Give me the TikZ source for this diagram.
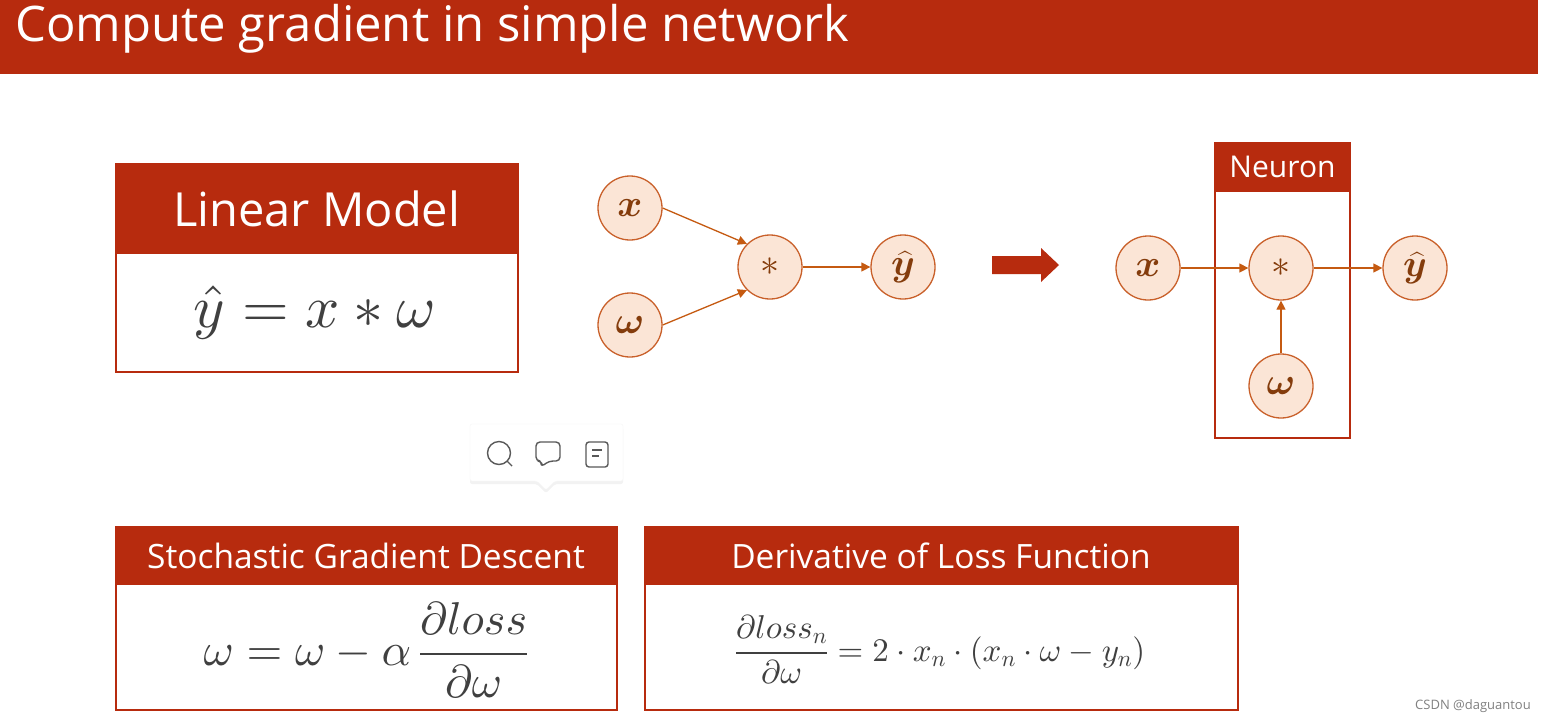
\documentclass[tikz,border=0pt]{standalone}
\usepackage{fix-cm}
\usepackage{amsmath}
\usepackage{bm}
\usepackage{fontspec}
\setmainfont{Open Sans}
\usetikzlibrary{arrows.meta,shadows}
\DeclareFontShape{OML}{cmm}{m}{it}{<->cmmi10}{}
\DeclareFontShape{OMS}{cmsy}{m}{n}{<->cmsy10}{}
\DeclareFontShape{OT1}{cmr}{m}{n}{<->cmr10}{}
\definecolor{barred}{HTML}{B72B0E}
\definecolor{nodeline}{HTML}{C9602A}
\definecolor{nodefill}{HTML}{FBE5D6}
\definecolor{nodetext}{HTML}{843C0C}
\definecolor{arrowline}{HTML}{C55A11}
\definecolor{mathtext}{HTML}{404040}
\definecolor{icongray}{HTML}{595959}
\tikzset{
 unitnode/.style={circle,draw=nodeline,fill=nodefill,line width=1.3pt,minimum size=64pt,inner sep=0pt,text=nodetext,font=\fontsize{38}{40}\selectfont},
 starnode/.style={unitnode,font=\fontsize{38}{40}\selectfont},
 wire/.style={arrowline,line width=1.3pt,-{Triangle[length=9pt,width=9pt]}},
 framebox/.style={draw=barred,line width=2pt,fill=white,anchor=north west,outer sep=0pt},
 headbox/.style={fill=barred,anchor=north west,text=white,inner sep=0pt,outer sep=0pt,align=center},
 formula/.style={text=mathtext,inner sep=0pt},
 iconline/.style={draw=icongray,line width=1.4pt,line join=round}
}
\begin{document}
\begin{tikzpicture}[x=1pt,y=-1pt]
 \useasboundingbox (0,0) rectangle (1546,721);
 \fill[white] (0,0) rectangle (1546,721);
 % title bar
 \node[fill=barred,anchor=north west,minimum width=1538pt,minimum height=74pt,inner sep=0pt,outer sep=0pt] (titlebar) at (0,0) {};
 \node[anchor=base west,text=white,inner sep=0pt,font=\fontsize{49}{56}\selectfont] (title) at (15,41) {Compute gradient in simple network};
 % linear model
 \node[framebox,minimum width=402pt,minimum height=208pt] (modelbox) at (115.5,163.5) {};
 \node[headbox,minimum width=403.5pt,minimum height=91pt,font=\fontsize{47}{52}\selectfont] (modelhead) at (115,163) {Linear Model};
 \node[formula,font=\fontsize{60}{64}\selectfont] (modeleq) at (315,312) {$\hat{y}=x*\omega$};
 % first graph
 \node[unitnode] (xa) at (630,208) {\raisebox{-2pt}{$\bm{x}$}};
 \node[unitnode] (wa) at (630,325) {\raisebox{-3pt}{$\bm{\omega}$}};
 \node[starnode] (mula) at (770,267) {$*$};
 \node[unitnode] (ya) at (903,267) {$\bm{\widehat{y}}$};
 \draw[wire] (xa.east) -- (mula.135);
 \draw[wire] (wa.east) -- (mula.225);
 \draw[wire] (mula.east) -- (ya.west);
 % big arrow
 \fill[barred] (992,256) -- (1041,256) -- (1041,248) -- (1059,265) -- (1041,282) -- (1041,274) -- (992,274) -- cycle;
 % neuron
 \node[framebox,minimum width=135pt,minimum height=295pt] (neuronbox) at (1215,142.5) {};
 \node[headbox,minimum width=137pt,minimum height=50pt,font=\fontsize{30}{33}\selectfont] (neuronhead) at (1214,142) {Neuron};
 \node[unitnode] (xb) at (1148,268) {\raisebox{-2pt}{$\bm{x}$}};
 \node[starnode] (mulb) at (1281,268) {$*$};
 \node[unitnode] (yb) at (1415,268) {$\bm{\widehat{y}}$};
 \node[unitnode] (wb) at (1281,386) {\raisebox{-3pt}{$\bm{\omega}$}};
 \draw[wire] (xb.east) -- (mulb.west);
 \draw[wire] (mulb.east) -- (yb.west);
 \draw[wire] (wb.north) -- (mulb.south);
 % popup
 \filldraw[draw=black!4,fill=white,rounded corners=2pt,drop shadow={shadow xshift=0pt,shadow yshift=-3pt,opacity=0.10}] (470,424) -- (623,424) -- (623,481) -- (555,481) -- (546,490) -- (537,481) -- (470,481) -- cycle;
 \draw[iconline] (499,453) circle (11.5);
 \draw[iconline] (507,461) -- (512,466);
 \draw[iconline,rounded corners=4pt] (536,442) -- (560,442) -- (560,461) -- (549,461) -- (541,467) -- (542,461) -- (536,461) -- cycle;
 \draw[iconline,rounded corners=3pt] (586,442) rectangle (608,467);
 \draw[iconline] (592,450) -- (602,450);
 \draw[iconline] (592,456) -- (599,456);
 % stochastic gradient descent
 \node[framebox,minimum width=501pt,minimum height=183pt] (sgdbox) at (115.5,526.5) {};
 \node[headbox,minimum width=503pt,minimum height=59pt,font=\fontsize{33.5}{37}\selectfont] (sgdhead) at (114.5,526) {Stochastic Gradient Descent};
 \node[formula,font=\fontsize{46}{50}\selectfont] (sgdeq) at (366,650) {$\omega=\omega-\alpha\,\genfrac{}{}{2pt}{0}{\partial loss}{\partial\omega}$};
 % derivative
 \node[framebox,minimum width=593pt,minimum height=183pt] (lossbox) at (644.5,526.5) {};
 \node[headbox,minimum width=595pt,minimum height=59pt,font=\fontsize{33.5}{37}\selectfont] (losshead) at (643.5,526) {Derivative of Loss Function};
 \node[formula,font=\fontsize{33}{37}\selectfont] (losseq) at (940,650) {$\genfrac{}{}{1.6pt}{0}{\partial loss_n}{\partial\omega}=2\cdot x_n\cdot(x_n\cdot\omega-y_n)$};
 % watermark
 \node[anchor=base east,text=black!50,inner sep=0pt,font=\fontsize{13}{15}\selectfont] (mark) at (1531,709) {CSDN @daguantou};
\end{tikzpicture}
\end{document}
